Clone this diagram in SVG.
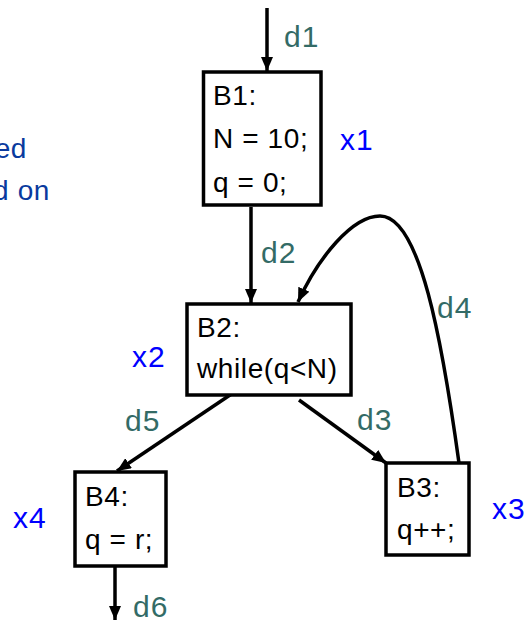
<svg xmlns="http://www.w3.org/2000/svg" width="531" height="620" viewBox="0 0 531 620">
<style>
text{font-family:"Liberation Sans",Arial,sans-serif}
.box{fill:#fff;stroke:#000;stroke-width:3.5}
.bt{font-size:28px;fill:#000;letter-spacing:0.6px}
.dl{font-size:30px;fill:#336b66;letter-spacing:1px}
.xl{font-size:30px;fill:#0000ff;letter-spacing:1px}
.note{font-size:28px;fill:#0a3a9e;letter-spacing:0.6px}
.edge{fill:none;stroke:#000;stroke-width:3.5}
</style>
<defs>
<marker id="ah" viewBox="0 0 14 12" refX="14" refY="6" markerWidth="14" markerHeight="12" markerUnits="userSpaceOnUse" orient="auto">
<path d="M0,0 L14,6 L0,12 Z" fill="#000"/>
</marker>
</defs>
<g id="note">
<text class="note" x="27" y="158" text-anchor="end">ed</text>
<text class="note" x="50" y="200" text-anchor="end">d on</text>
</g>
<g id="connectors">
<path class="edge" d="M267,8 L267,71" marker-end="url(#ah)"/>
<path class="edge" d="M251,207 L251,303" marker-end="url(#ah)"/>
<path class="edge" d="M459,463 C442,340 420,216 380,216 C352,216 318,258 298,302" marker-end="url(#ah)"/>
<path class="edge" d="M233,393 L117,471" marker-end="url(#ah)"/>
<path class="edge" d="M299,400 L386,463" marker-end="url(#ah)"/>
<path class="edge" d="M115,566 L115,620" marker-end="url(#ah)"/>
<text class="dl" x="284" y="47">d1</text>
<text class="dl" x="261" y="263">d2</text>
<text class="dl" x="357" y="430">d3</text>
<text class="dl" x="437" y="318">d4</text>
<text class="dl" x="125" y="431">d5</text>
<text class="dl" x="133" y="617">d6</text>
</g>
<g id="B1">
<rect class="box" x="203.5" y="72" width="117.5" height="133"/>
<text class="bt" x="213" y="105">B1:</text>
<text class="bt" x="213" y="148">N = 10;</text>
<text class="bt" x="213" y="192">q = 0;</text>
<text class="xl" x="340" y="150">x1</text>
</g>
<g id="B2">
<rect class="box" x="187" y="304" width="164" height="91"/>
<text class="bt" x="197" y="337">B2:</text>
<text class="bt" x="197" y="378">while(q&lt;N)</text>
<text class="xl" x="132" y="367">x2</text>
</g>
<g id="B3">
<rect class="box" x="386" y="463" width="83" height="92"/>
<text class="bt" x="397" y="497">B3:</text>
<text class="bt" x="397" y="539">q++;</text>
<text class="xl" x="492" y="519">x3</text>
</g>
<g id="B4">
<rect class="box" x="75" y="472" width="91" height="94"/>
<text class="bt" x="85" y="506">B4:</text>
<text class="bt" x="85" y="549">q = r;</text>
<text class="xl" x="13" y="528">x4</text>
</g>
</svg>
